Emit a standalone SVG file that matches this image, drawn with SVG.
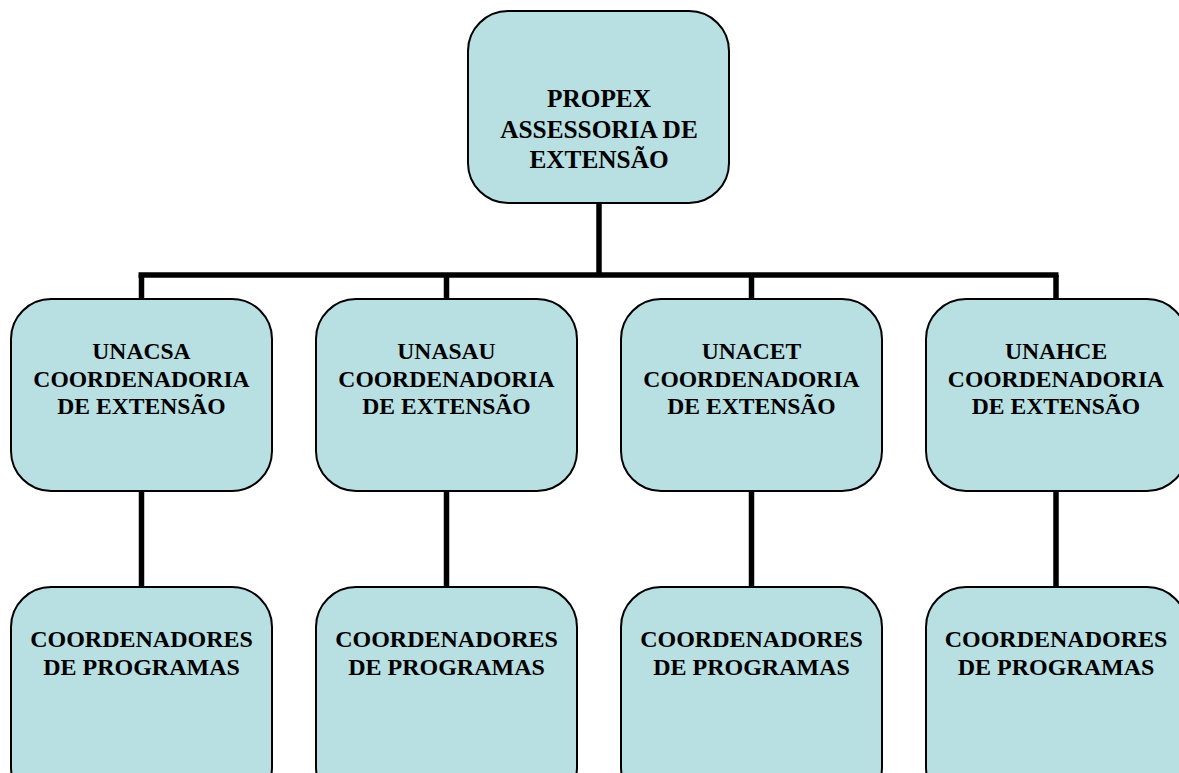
<svg xmlns="http://www.w3.org/2000/svg" width="1179" height="773" viewBox="0 0 1179 773">
<style>
.box{fill:#b8dfe2;stroke:#000;stroke-width:2}
.lbl{font-family:"Liberation Serif","Times New Roman",serif;font-weight:bold;font-size:23.6px;fill:#000;text-anchor:middle}
.big{font-size:25.3px}
.mid{font-size:24px}
.con{stroke:#000;stroke-width:5.5;fill:none}
</style>
<rect width="1179" height="773" fill="#fff"/>
<g id="connectors">
<line class="con" x1="599" y1="202" x2="599" y2="275"/>
<line class="con" x1="138.5" y1="275" x2="1058.5" y2="275"/>
<line class="con" x1="141.5" y1="275" x2="141.5" y2="299"/>
<line class="con" x1="446.5" y1="275" x2="446.5" y2="299"/>
<line class="con" x1="751.5" y1="275" x2="751.5" y2="299"/>
<line class="con" x1="1056" y1="275" x2="1056" y2="299"/>
<line class="con" x1="141.5" y1="491" x2="141.5" y2="587"/>
<line class="con" x1="446.5" y1="491" x2="446.5" y2="587"/>
<line class="con" x1="751.5" y1="491" x2="751.5" y2="587"/>
<line class="con" x1="1056" y1="491" x2="1056" y2="587"/>
</g>
<g id="propex">
<rect class="box" x="468" y="11" width="261" height="192" rx="40" ry="40"/>
<text class="lbl big" x="599" y="107">PROPEX</text>
<text class="lbl big" x="599" y="138">ASSESSORIA DE</text>
<text class="lbl big" x="599" y="168">EXTENSÃO</text>
</g>
<g id="unacsa">
<rect class="box" x="11" y="299" width="261" height="192" rx="40" ry="40"/>
<text class="lbl" x="141.5" y="359">UNACSA</text>
<text class="lbl" x="141.5" y="386.5">COORDENADORIA</text>
<text class="lbl" x="141.5" y="413.5">DE EXTENSÃO</text>
</g>
<g id="unasau">
<rect class="box" x="316" y="299" width="261" height="192" rx="40" ry="40"/>
<text class="lbl" x="446.5" y="359">UNASAU</text>
<text class="lbl" x="446.5" y="386.5">COORDENADORIA</text>
<text class="lbl" x="446.5" y="413.5">DE EXTENSÃO</text>
</g>
<g id="unacet">
<rect class="box" x="621" y="299" width="261" height="192" rx="40" ry="40"/>
<text class="lbl" x="751.5" y="359">UNACET</text>
<text class="lbl" x="751.5" y="386.5">COORDENADORIA</text>
<text class="lbl" x="751.5" y="413.5">DE EXTENSÃO</text>
</g>
<g id="unahce">
<rect class="box" x="926" y="299" width="261" height="192" rx="40" ry="40"/>
<text class="lbl" x="1056" y="359">UNAHCE</text>
<text class="lbl" x="1056" y="386.5">COORDENADORIA</text>
<text class="lbl" x="1056" y="413.5">DE EXTENSÃO</text>
</g>
<g id="prog1">
<rect class="box" x="11" y="587" width="261" height="220" rx="40" ry="40"/>
<text class="lbl mid" x="141.5" y="647">COORDENADORES</text>
<text class="lbl mid" x="141.5" y="675">DE PROGRAMAS</text>
</g>
<g id="prog2">
<rect class="box" x="316" y="587" width="261" height="220" rx="40" ry="40"/>
<text class="lbl mid" x="446.5" y="647">COORDENADORES</text>
<text class="lbl mid" x="446.5" y="675">DE PROGRAMAS</text>
</g>
<g id="prog3">
<rect class="box" x="621" y="587" width="261" height="220" rx="40" ry="40"/>
<text class="lbl mid" x="751.5" y="647">COORDENADORES</text>
<text class="lbl mid" x="751.5" y="675">DE PROGRAMAS</text>
</g>
<g id="prog4">
<rect class="box" x="926" y="587" width="261" height="220" rx="40" ry="40"/>
<text class="lbl mid" x="1056" y="647">COORDENADORES</text>
<text class="lbl mid" x="1056" y="675">DE PROGRAMAS</text>
</g>
</svg>
